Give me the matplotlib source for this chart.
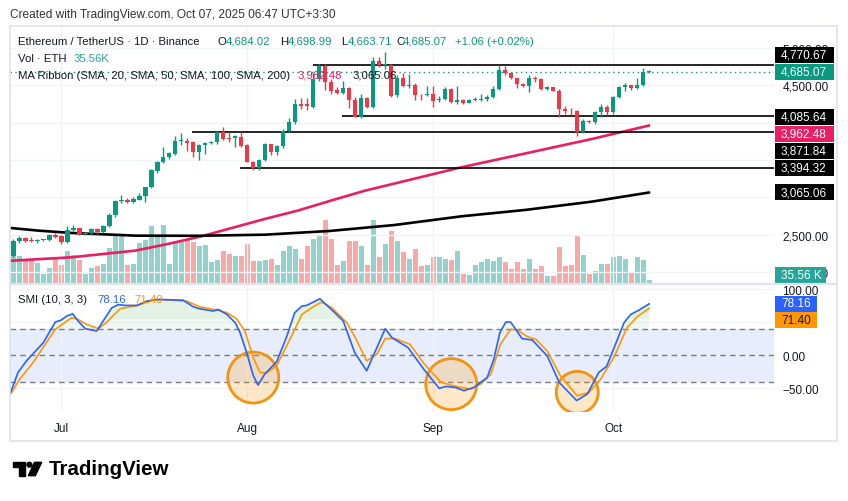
import numpy as np
import matplotlib
matplotlib.use("Agg")
import matplotlib.pyplot as plt
from matplotlib.patches import Rectangle, Polygon, Circle

# ---------------------------------------------------------------------------
# Data (ETH/USDT daily, Jun 23 -> Oct 7 2025)
# ---------------------------------------------------------------------------

opens = [2220, 2412, 2455, 2425, 2418, 2428, 2434, 2496, 2486, 2400,
         2568, 2585, 2508, 2518, 2578, 2535, 2612, 2765, 2950, 2968,
         2935, 2970, 3015, 3134, 3358, 3470, 3536, 3582, 3757, 3759,
         3746, 3612, 3700, 3723, 3737, 3871, 3795, 3790, 3804, 3701,
         3478, 3389, 3500, 3714, 3603, 3692, 3893, 4005, 4250, 4250,
         4214, 4585, 4763, 4540, 4442, 4400, 4464, 4303, 4072, 4326,
         4206, 4830, 4775, 4775, 4370, 4598, 4496, 4508, 4370, 4365,
         4384, 4300, 4312, 4451, 4281, 4300, 4264, 4308, 4305, 4312,
         4345, 4451, 4705, 4665, 4594, 4518, 4496, 4598, 4585, 4451,
         4473, 4429, 4183, 4160, 4150, 3871, 4027, 4008, 4142, 4214,
         4143, 4348, 4473, 4504, 4470, 4504, 4684.02]
highs = [2440, 2480, 2470, 2470, 2445, 2445, 2505, 2520, 2495, 2615,
         2630, 2595, 2530, 2595, 2590, 2625, 2790, 2960, 3035, 2985,
         3000, 3060, 3140, 3385, 3490, 3670, 3610, 3825, 3860, 3790,
         3760, 3710, 3735, 3760, 3885, 3940, 3870, 3835, 3870, 3715,
         3490, 3515, 3730, 3720, 3700, 3910, 4060, 4320, 4330, 4330,
         4670, 4785, 4790, 4580, 4480, 4560, 4480, 4350, 4380, 4340,
         4885, 4880, 4950, 4790, 4640, 4660, 4650, 4525, 4385, 4490,
         4495, 4360, 4480, 4470, 4487, 4320, 4320, 4345, 4380, 4370,
         4485, 4770, 4765, 4680, 4605, 4530, 4640, 4630, 4595, 4495,
         4480, 4450, 4225, 4195, 4165, 4055, 4030, 4150, 4250, 4240,
         4355, 4495, 4530, 4510, 4605, 4730, 4698.99]
lows = [2195, 2390, 2400, 2405, 2395, 2415, 2420, 2460, 2380, 2385,
        2550, 2490, 2495, 2500, 2510, 2520, 2600, 2740, 2925, 2920,
        2930, 2960, 2940, 3130, 3330, 3460, 3520, 3570, 3700, 3625,
        3535, 3505, 3580, 3710, 3720, 3770, 3740, 3680, 3680, 3470,
        3370, 3360, 3490, 3570, 3570, 3665, 3880, 3985, 4180, 4170,
        4200, 4560, 4440, 4380, 4380, 4390, 4200, 4070, 4060, 4200,
        4200, 4750, 4720, 4340, 4340, 4480, 4460, 4300, 4300, 4355,
        4205, 4275, 4300, 4260, 4250, 4255, 4260, 4285, 4290, 4290,
        4330, 4440, 4640, 4590, 4460, 4480, 4410, 4540, 4440, 4440,
        4420, 4075, 4110, 4105, 3815, 3860, 3990, 3980, 4080, 4100,
        4115, 4330, 4425, 4440, 4450, 4495, 4663.71]
closes = [2420, 2455, 2410, 2412, 2428, 2436, 2496, 2474, 2400, 2568,
          2585, 2505, 2518, 2580, 2535, 2612, 2765, 2950, 2955, 2935,
          2978, 3022, 3134, 3370, 3478, 3545, 3594, 3758, 3762, 3730,
          3612, 3700, 3728, 3745, 3871, 3782, 3782, 3817, 3692, 3480,
          3389, 3505, 3714, 3603, 3692, 3893, 4005, 4250, 4228, 4219,
          4585, 4763, 4540, 4428, 4400, 4464, 4300, 4072, 4326, 4206,
          4830, 4775, 4780, 4362, 4598, 4496, 4508, 4370, 4365, 4384,
          4295, 4312, 4451, 4281, 4300, 4264, 4308, 4312, 4312, 4345,
          4451, 4705, 4665, 4594, 4518, 4496, 4594, 4585, 4451, 4473,
          4429, 4183, 4150, 4150, 3871, 4027, 4008, 4147, 4214, 4143,
          4348, 4473, 4504, 4460, 4504, 4684, 4685.07]
volumes_k = [292, 292, 256, 256, 219, 100, 165, 262, 198, 349,
             306, 256, 100, 170, 191, 208, 381, 522, 515, 202,
             208, 440, 475, 616, 529, 637, 216, 459, 448, 481,
             448, 410, 421, 232, 259, 346, 324, 297, 302, 432,
             248, 238, 259, 270, 205, 346, 400, 378, 270, 400,
             486, 508, 691, 486, 205, 248, 454, 454, 400, 205,
             691, 281, 432, 572, 454, 335, 270, 378, 194, 205,
             281, 281, 270, 259, 346, 108, 97, 205, 227, 270,
             248, 281, 227, 162, 227, 162, 270, 162, 184, 76,
             86, 389, 184, 205, 508, 313, 108, 140, 216, 216,
             281, 292, 270, 119, 281, 259, 35.56]

# moving averages, read at candle positions
sma100_x = [-0.5, 9.7, 20.3, 25.8, 31.4, 41.9, 47.4, 53.1, 58.6, 63.6, 74.7, 85.3, 96.4, 106]
sma100 = [2150, 2197, 2286, 2376, 2479, 2710, 2822, 2960, 3089, 3186, 3403, 3587, 3781, 3962.48]
sma200_x = [-0.5, 4.2, 9.7, 20.3, 31.0, 42.0, 52.8, 63.6, 74.7, 85.3, 96.4, 106]
sma200 = [2590, 2554, 2523, 2487, 2485, 2500, 2550, 2630, 2746, 2831, 2942, 3065.06]

# horizontal support / resistance levels and the candle they start from
levels = [4770.67, 4085.64, 3871.84, 3394.32]
level_start = [49.9, 54.8, 29.8, 37.8]

# SMI (10, 3, 3)
smi_x = [-0.45, 0.8, 2.2, 5.0, 7.0, 8.0, 8.9, 9.9, 10.8, 12.0,
         13.9, 16.4, 17.5, 18.6, 20.6, 22.2, 23.9, 28.3, 30.0, 31.1,
         33.3, 34.2, 35.6, 37.0, 37.8, 38.9, 40.0, 40.8, 41.9, 43.9,
         45.6, 46.9, 48.1, 48.9, 51.1, 53.3, 55.0, 56.9, 58.9, 62.0,
         63.1, 65.8, 68.4, 71.0, 72.1, 73.7, 75.1, 76.8, 79.0, 80.1,
         81.1, 82.1, 82.9, 84.8, 86.5, 89.0, 91.0, 93.9, 95.7, 97.6,
         98.9, 100.7, 101.8, 102.9, 104.3, 106.0]
smi = [-56.6, -26, -8.6, 19, 50.5, 53.5, 59.6, 63, 52, 40.4,
       36.9, 72, 77, 75.8, 75.8, 82.3, 84.8, 83.8, 73.7, 70.7,
       67.2, 69.7, 62, 49.5, 34.3, 4, -31, -45.5, -28.8, -10,
       29, 64.7, 74.7, 75.8, 85.9, 67.2, 52, 4, -23.7, 40.4,
       26.8, 11.6, -21, -50.5, -47.5, -49, -54, -49, -33.8, -6,
       34.3, 50.5, 50.5, 25.3, 23.2, -1, -41.4, -69, -59, -26,
       -17, 24, 49.5, 62, 68.7, 78.16]
signal_x = [-0.45, 1.1, 3.3, 7.0, 9.7, 10.8, 12.2, 14.2, 15.6, 17.8,
            20.8, 22.8, 24.4, 28.9, 31.1, 33.9, 35.6, 37.2, 38.6, 40.0,
            41.1, 42.2, 43.9, 46.1, 48.1, 50.0, 51.4, 53.1, 55.6, 57.0,
            58.9, 60.6, 62.0, 63.6, 66.1, 68.4, 71.2, 72.9, 74.6, 76.2,
            77.9, 79.6, 81.2, 82.9, 84.0, 85.7, 87.1, 89.0, 91.2, 94.0,
            95.95, 97.9, 100.1, 102.3, 104.0, 106.0]
signal = [-59, -36, -11, 39.4, 57, 54.5, 47, 40.4, 50.5, 70.7,
          75.8, 82.3, 84.8, 82.3, 73.7, 68.7, 64.7, 55.5, 36.9, -3.5,
          -26, -27, -16, 24, 62, 73.7, 80.8, 72.2, 49.5, 26.8,
          -8.6, 1.5, 25.3, 25.3, 16.7, -12, -40.4, -45.5, -49, -51.5,
          -44, -28.8, 16.7, 39.4, 38.4, 28.3, 24.2, 6.5, -31.4, -61.7,
          -56.6, -36.4, -3.5, 42, 58.6, 71.4]

# highlighted oversold zones (candle, SMI value)
circle_x = [40, 73, 94]
circle_y = [-34, -44, -56.5]

month_idx = [8, 39, 70, 100]
month_labels = ["Jul", "Aug", "Sep", "Oct"]
price_grid = [2000, 2500, 3000, 3500, 4000, 4500, 5000]
price_labels = [2000, 2500, 4500, 5000]   # the others sit under value tags

# ---------------------------------------------------------------------------
# Style
# ---------------------------------------------------------------------------

W, H = 848, 502
TXT = "#131722"
GREEN = "#089981"
RED = "#f23645"
PINK = "#e91e63"
BLUE = "#2962ff"
ORANGE = "#ff9800"
GRID = "#f0f3fa"
XLIM = (-0.55, 126.8)

plt.rcParams["font.family"] = ["Liberation Sans", "DejaVu Sans"]


def frac_rect(x0, y0, x1, y1):
    """pixel box (top-left origin) -> figure fraction rect"""
    return [x0 / W, 1 - y1 / H, (x1 - x0) / W, (y1 - y0) / H]


def fmt(v):
    return f"{v:,.2f}"


fig = plt.figure(figsize=(W / 100, H / 100), dpi=100)
fig.patch.set_facecolor("white")

# ---------------------------------------------------------------------------
# Price pane (+ volume overlay)
# ---------------------------------------------------------------------------

ax = fig.add_axes(frac_rect(10, 27, 774, 284.5))
axv = ax.twinx()
ax.set_zorder(axv.get_zorder() + 1)
ax.patch.set_visible(False)

idx = np.arange(len(opens))
o, h, l, c = (np.array(a, dtype=float) for a in (opens, highs, lows, closes))
up = c >= o

vol_col = np.where(up, "#92d2cc", "#f7a9a7")
axv.bar(idx, volumes_k, width=0.8, color=vol_col, linewidth=0)
axv.set_ylim(0, 2781)
axv.set_xlim(*XLIM)
axv.set_axis_off()

col = np.where(up, GREEN, RED)
ax.vlines(idx, l, h, colors=col, lw=1, zorder=4)
ax.bar(idx, np.maximum(np.abs(c - o), 12), bottom=np.minimum(o, c),
       width=0.74, color=col, linewidth=0, zorder=5)

ax.plot(sma100_x, sma100, color=PINK, lw=1.9, zorder=3, solid_capstyle="round")
ax.plot(sma200_x, sma200, color="black", lw=1.9, zorder=3, solid_capstyle="round")
ax.hlines(levels, level_start, XLIM[1], color="black", lw=1.2, zorder=3)
ax.axhline(closes[-1], color=GREEN, lw=1, ls=(0, (1, 2.5)), zorder=3)

ax.set_xlim(*XLIM)
ax.set_ylim(1846, 5295)
ax.set_xticks(month_idx)
ax.set_xticklabels([])
ax.yaxis.tick_right()
ax.set_yticks(price_grid)
ax.set_yticklabels([fmt(v) if v in price_labels else "" for v in price_grid])
ax.tick_params(axis="both", length=0, labelsize=8.5, labelcolor=TXT)
ax.tick_params(axis="y", pad=6)
ax.grid(True, color=GRID, lw=1)
ax.set_axisbelow(True)
for s in ax.spines.values():
    s.set_visible(False)

# ---------------------------------------------------------------------------
# SMI pane
# ---------------------------------------------------------------------------

axs = fig.add_axes(frac_rect(10, 285.5, 774, 413))
axs.axhspan(-40, 40, color="#e8edfd", lw=0, zorder=0.5)
for lv in (40, 0, -40):
    axs.axhline(lv, color="#787b86", lw=1, ls=(0, (4, 3)), zorder=1)

smi_arr = np.array(smi)
for lvl in (40, 55):
    axs.fill_between(smi_x, smi_arr, lvl, where=smi_arr > lvl, interpolate=True,
                     color="#4caf50", alpha=0.08, lw=0, zorder=1.5)

axs.scatter(circle_x, circle_y, s=[1348, 1348, 914], facecolor=(1.0, 0.6, 0.0, 0.22),
            edgecolor="#f5930f", lw=2, zorder=2)
axs.plot(signal_x, signal, color=ORANGE, lw=1.2, zorder=3)
axs.plot(smi_x, smi, color=BLUE, lw=1.2, zorder=4)

axs.set_xlim(*XLIM)
axs.set_ylim(-86.4, 107.6)
axs.set_xticks(month_idx)
axs.set_xticklabels(month_labels)
axs.yaxis.tick_right()
axs.set_yticks([100, 50, 0, -50])
axs.set_yticklabels(["100.00", "", "0.00", "\u221250.00"])
axs.tick_params(axis="both", length=0, labelsize=8.5, labelcolor=TXT)
axs.tick_params(axis="y", pad=6)
axs.tick_params(axis="x", pad=7.5)
axs.grid(True, color=GRID, lw=1)
axs.set_axisbelow(True)
for s in axs.spines.values():
    s.set_visible(False)

# ---------------------------------------------------------------------------
# Overlay: frame, legends, price labels, logo (pixel coordinates)
# ---------------------------------------------------------------------------

ov = fig.add_axes([0, 0, 1, 1], zorder=10)
ov.set_xlim(0, W)
ov.set_ylim(H, 0)
ov.set_axis_off()
ov.patch.set_alpha(0)

ov.add_patch(Rectangle((10, 27), 827, 415, fill=False, edgecolor="#e0e3eb", lw=1.2))
ov.plot([10, 837], [284.8, 284.8], color="#e0e3eb", lw=1.6)

ov.text(10, 15, "Created with TradingView.com, Oct 07, 2025 06:47 UTC+3:30",
        fontsize=8.6, color="#333333", va="center")

fs = 8.2
row1 = [(18, "Ethereum / TetherUS \u00b7 1D \u00b7 Binance", TXT),
        (218, "O", TXT), (226, fmt(opens[-1]), GREEN),
        (280, "H", TXT), (288, fmt(highs[-1]), GREEN),
        (341, "L", TXT), (348, fmt(lows[-1]), GREEN),
        (396, "C", TXT), (403, fmt(closes[-1]), GREEN),
        (455, "+1.06 (+0.02%)", GREEN)]
for x, s, colr in row1:
    ov.text(x, 42, s, fontsize=fs, color=colr, va="center")
ov.text(18, 59, "Vol \u00b7 ETH", fontsize=fs, color=TXT, va="center")
ov.text(74, 59, f"{volumes_k[-1]:.2f}K", fontsize=fs, color="#26a69a", va="center")
ov.text(18, 76, "MA Ribbon (SMA, 20, SMA, 50, SMA, 100, SMA, 200)",
        fontsize=fs, color=TXT, va="center")
ov.text(298, 76, fmt(sma100[-1]), fontsize=fs, color=PINK, va="center")
ov.text(353, 76, fmt(sma200[-1]), fontsize=fs, color=TXT, va="center")

ov.text(18, 300, "SMI (10, 3, 3)", fontsize=fs, color=TXT, va="center")
ov.text(97, 300, f"{smi[-1]:.2f}", fontsize=fs, color=BLUE, va="center")
ov.text(134, 300, f"{signal[-1]:.2f}", fontsize=fs, color=ORANGE, va="center")

# value tags on the right scale
tags = [
    (fmt(levels[0]), 55.8, "#000000", "white", 59),
    (fmt(closes[-1]), 72.8, GREEN, "white", 59),
    (fmt(levels[1]), 118.0, "#000000", "white", 59),
    (fmt(sma100[-1]), 134.5, PINK, "white", 59),
    (fmt(levels[2]), 151.5, "#000000", "white", 59),
    (fmt(levels[3]), 168.8, "#000000", "white", 59),
    (fmt(sma200[-1]), 193.3, "#000000", "white", 59),
    (f"{volumes_k[-1]:.2f} K", 275.7, "#26a69a", "white", 51),
    (f"{smi[-1]:.2f}", 304.5, BLUE, "white", 42),
    (f"{signal[-1]:.2f}", 321.3, ORANGE, TXT, 42),
]
for s, yc, face, tcol, w in tags:
    ov.add_patch(Rectangle((775, yc - 8), w, 16, facecolor=face, edgecolor="none"))
    ov.text(781, yc, s, fontsize=8.5, color=tcol, va="center")

# TradingView logo
ov.add_patch(Polygon([(12.7, 463.3), (25, 463.3), (25, 476.7), (19.3, 476.7),
                      (19.3, 468.3), (12.7, 468.3)], closed=True, color="black"))
ov.add_patch(Circle((29.4, 465.7), 2.4, color="black"))
ov.add_patch(Polygon([(34.5, 463.3), (41.7, 463.3), (35.3, 476.7), (28.3, 476.7)],
                     closed=True, color="black"))
ov.text(49, 470, "TradingView", fontsize=14.8, fontweight="bold", color="black", va="center")

fig.savefig("out.png", dpi=100, facecolor="white")
